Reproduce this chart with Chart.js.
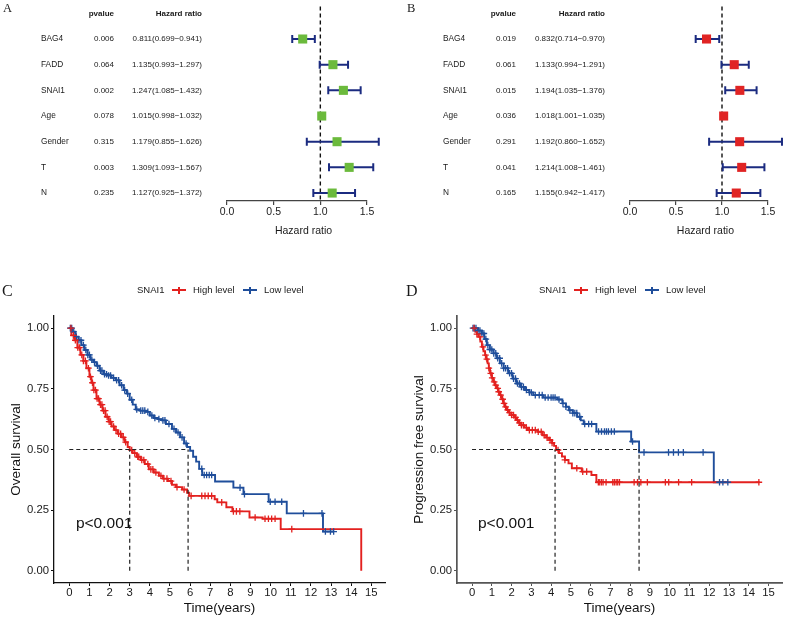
<!DOCTYPE html>
<html>
<head>
<meta charset="utf-8">
<script src="https://cdn.jsdelivr.net/npm/chart.js@4.4.1/dist/chart.umd.min.js"></script>
<style>
  body { margin: 0; background: #fff; width: 790px; height: 617px; position: relative; overflow: hidden;
         font-family: "Liberation Sans", Arial, sans-serif; }
  canvas { position: absolute; }
  .tag { position: absolute; font-family: "Liberation Serif", "Times New Roman", serif; line-height: 1; color: #1a1a1a; }
  .leg { position: absolute; font-size: 9.5px; line-height: 12px; height: 12px; color: #1a1a1a; white-space: nowrap; }
  .key { position: absolute; width: 14px; height: 12px; }
  .key .h { position: absolute; left: 0; right: 0; top: 5px; height: 2px; }
  .key .v { position: absolute; left: 6px; width: 1.5px; top: 2.5px; height: 7px; }
</style>
</head>
<body>
<canvas id="forestA" width="395" height="240" style="left:0;top:0"></canvas>
<canvas id="forestB" width="395" height="240" style="left:395px;top:0"></canvas>
<canvas id="kmC" width="395" height="377" style="left:0;top:240px"></canvas>
<canvas id="kmD" width="395" height="377" style="left:395px;top:240px"></canvas>

<div class="tag" style="left:3px;top:2px;font-size:12.5px">A</div>
<div class="tag" style="left:407px;top:2px;font-size:12.5px">B</div>
<div class="tag" style="left:2px;top:283px;font-size:16px">C</div>
<div class="tag" style="left:406px;top:283px;font-size:16px">D</div>

<script>
// ---- forest plot data (A: overall survival, B: progression free survival) ----
const forestRows = ['BAG4', 'FADD', 'SNAI1', 'Age', 'Gender', 'T', 'N'];
const osPvalue = ['0.006', '0.064', '0.002', '0.078', '0.315', '0.003', '0.235'];
const osHR     = [0.811, 1.135, 1.247, 1.015, 1.179, 1.309, 1.127];
const osLower  = [0.699, 0.993, 1.085, 0.998, 0.855, 1.093, 0.925];
const osUpper  = [0.941, 1.297, 1.432, 1.032, 1.626, 1.567, 1.372];
const pfsPvalue = ['0.019', '0.061', '0.015', '0.036', '0.291', '0.041', '0.165'];
const pfsHR     = [0.832, 1.133, 1.194, 1.018, 1.192, 1.214, 1.155];
const pfsLower  = [0.714, 0.994, 1.035, 1.001, 0.860, 1.008, 0.942];
const pfsUpper  = [0.970, 1.291, 1.376, 1.035, 1.652, 1.461, 1.417];
const hrTicks = [0, 0.5, 1, 1.5];

// ---- Kaplan-Meier data (C: overall survival, D: progression free survival) ----
const groupTitle = 'SNAI1';
const groupLabels = ['High level', 'Low level'];
const timeTicks = [0, 1, 2, 3, 4, 5, 6, 7, 8, 9, 10, 11, 12, 13, 14, 15];
const survTicks = [0, 0.25, 0.5, 0.75, 1];

const osHighTime = [0, 0.1, 0.25, 0.4, 0.55, 0.7, 0.85, 1.0, 1.1, 1.2, 1.35, 1.5, 1.65, 1.8, 1.95, 2.1,
  2.25, 2.4, 2.6, 2.75, 2.9, 3.0, 3.15, 3.35, 3.55, 3.75, 3.95, 4.2, 4.45, 4.65, 4.9, 5.1,
  5.3, 5.6, 5.85, 5.95, 7.22, 7.35, 7.8, 8.1, 8.95, 9.6, 10.5, 14.5];
const osHighSurv = [1, 0.97, 0.95, 0.92, 0.89, 0.865, 0.835, 0.8, 0.775, 0.745, 0.71, 0.685, 0.66, 0.635, 0.615, 0.595,
  0.58, 0.565, 0.55, 0.53, 0.51, 0.498, 0.485, 0.47, 0.457, 0.44, 0.418, 0.405, 0.392, 0.38, 0.37, 0.355,
  0.345, 0.335, 0.322, 0.309, 0.295, 0.282, 0.262, 0.245, 0.22, 0.215, 0.172, 0];
const osHighCensor = [0.08, 0.2, 0.3, 0.42, 0.5, 0.62, 0.7, 0.8, 0.95, 1.05, 1.15, 1.22, 1.3, 1.38, 1.45, 1.55,
  1.62, 1.7, 1.78, 1.88, 1.98, 2.05, 2.2, 2.32, 2.45, 2.55, 2.68, 2.8, 3.1, 3.25, 3.4, 3.45, 3.6, 3.7,
  3.9, 4.05, 4.15, 4.3, 4.55, 4.7, 4.85, 5.05, 5.35, 5.7, 6.05, 6.58, 6.74, 6.9, 7.07, 7.57, 8.15, 8.3,
  8.47, 9.23, 9.72, 9.89, 10.05, 10.22, 11.05];

const osLowTime = [0, 0.15, 0.3, 0.45, 0.6, 0.75, 0.9, 1.05, 1.2, 1.35, 1.5, 1.7, 1.9, 2.1, 2.3, 2.5,
  2.7, 2.85, 3.0, 3.15, 3.3, 3.5, 3.8, 4.0, 4.2, 4.4, 4.6, 4.8, 5.1, 5.3, 5.5, 5.7,
  5.85, 6.0, 6.15, 6.3, 6.45, 6.6, 7.24, 8.15, 8.65, 9.9, 10.8, 12.6, 13.13];
const osLowSurv = [1, 0.985, 0.965, 0.95, 0.93, 0.91, 0.89, 0.87, 0.86, 0.845, 0.825, 0.81, 0.805, 0.795, 0.785, 0.765,
  0.745, 0.73, 0.705, 0.685, 0.665, 0.66, 0.655, 0.64, 0.63, 0.625, 0.62, 0.605, 0.585, 0.57, 0.55, 0.525,
  0.51, 0.495, 0.47, 0.45, 0.42, 0.395, 0.368, 0.343, 0.316, 0.285, 0.237, 0.162, 0.162];
const osLowCensor = [0.05, 0.12, 0.22, 0.35, 0.48, 0.58, 0.7, 0.82, 0.92, 1.0, 1.12, 1.25, 1.4, 1.55, 1.62, 1.75,
  1.85, 1.95, 2.05, 2.2, 2.35, 2.45, 2.6, 2.75, 2.9, 3.1, 3.35, 3.55, 3.65, 3.75, 3.9, 4.1, 4.25, 4.45,
  4.65, 4.75, 4.95, 5.2, 5.4, 5.6, 5.8, 6.58, 6.7, 6.82, 6.95, 7.07, 8.48, 8.7, 9.98, 10.22, 10.55,
  11.63, 12.55, 12.72, 12.97, 13.13];
const osMedians = [3.0, 5.9];

const pfsHighTime = [0, 0.17, 0.25, 0.33, 0.42, 0.5, 0.58, 0.66, 0.72, 0.79, 0.85, 0.91, 1.0, 1.08, 1.16, 1.25,
  1.33, 1.41, 1.5, 1.58, 1.66, 1.74, 1.86, 1.99, 2.12, 2.24, 2.36, 2.49, 2.66, 2.83, 3.32, 3.57,
  3.75, 3.9, 4.05, 4.15, 4.25, 4.4, 4.55, 4.7, 4.88, 5.05, 5.55, 6.04, 6.29, 14.55];
const pfsHighSurv = [1, 0.985, 0.975, 0.964, 0.945, 0.923, 0.905, 0.889, 0.872, 0.855, 0.835, 0.814, 0.795, 0.779, 0.765, 0.752,
  0.738, 0.724, 0.707, 0.69, 0.676, 0.663, 0.652, 0.642, 0.632, 0.621, 0.61, 0.6, 0.59, 0.58, 0.573, 0.559,
  0.549, 0.539, 0.527, 0.515, 0.498, 0.485, 0.471, 0.457, 0.443, 0.423, 0.409, 0.395, 0.365, 0.365];
const pfsHighCensor = [0.1, 0.25, 0.4, 0.55, 0.68, 0.75, 0.85, 0.95, 1.02, 1.12, 1.2, 1.3, 1.35, 1.45, 1.55, 1.62,
  1.7, 1.8, 1.9, 2.0, 2.1, 2.2, 2.3, 2.4, 2.5, 2.6, 2.75, 2.9, 3.05, 3.2, 3.35, 3.5, 3.65, 3.8, 3.95,
  4.05, 4.35, 4.7, 5.3, 5.6, 5.8, 6.39, 6.46, 6.55, 6.63, 6.78, 7.12, 7.2, 7.29, 7.37, 7.46, 8.2, 8.37,
  8.54, 8.87, 9.78, 9.95, 10.45, 11.11, 14.51];

const pfsLowTime = [0, 0.3, 0.5, 0.62, 0.75, 0.9, 1.08, 1.25, 1.41, 1.6, 1.83, 2.05, 2.24, 2.45, 2.68, 2.9,
  3.1, 3.6, 4.32, 4.57, 4.75, 4.9, 5.1, 5.32, 5.5, 5.65, 6.29, 8.05, 8.45, 12.23, 12.94];
const pfsLowSurv = [1, 0.99, 0.978, 0.955, 0.93, 0.912, 0.896, 0.876, 0.855, 0.835, 0.814, 0.792, 0.772, 0.758, 0.745, 0.735,
  0.724, 0.714, 0.706, 0.69, 0.676, 0.662, 0.65, 0.635, 0.62, 0.605, 0.574, 0.533, 0.488, 0.365, 0.365];
const pfsLowCensor = [0.05, 0.12, 0.2, 0.3, 0.4, 0.5, 0.6, 0.7, 0.8, 0.9, 1.0, 1.1, 1.2, 1.3, 1.4, 1.5, 1.6,
  1.7, 1.8, 1.9, 2.0, 2.1, 2.2, 2.3, 2.4, 2.5, 2.6, 2.75, 2.9, 3.0, 3.2, 3.4, 3.55, 3.7, 3.85, 4.0,
  4.1, 4.2, 4.4, 4.6, 4.75, 4.95, 5.1, 5.2, 5.3, 5.45, 5.7, 5.9, 6.05, 6.4, 6.55, 6.7, 6.8, 6.9, 7.05,
  7.2, 8.12, 8.7, 9.94, 10.19, 10.44, 10.69, 11.69, 12.52, 12.69, 12.94];
const pfsMedians = [4.2, 8.45];

// ---- styles ----
const FONT = '"Liberation Sans", Arial, sans-serif';
const RED = '#E3211F';
const BLUE = '#1F4E9B';
const NAVY = '#1B2B80';
const TEXT = '#1a1a1a';

Chart.defaults.font.family = FONT;
Chart.defaults.color = TEXT;

// --- forest plot (A, B) ---
function forestChart(id, cfg) {
  const decor = {
    id: 'forestDecor',
    beforeDatasetsDraw(chart) {
      const { ctx, chartArea, scales: { x, y } } = chart;
      ctx.save();
      // dashed reference line at HR = 1
      const x1 = x.getPixelForValue(1);
      ctx.strokeStyle = '#111';
      ctx.lineWidth = 1.4;
      ctx.setLineDash([4, 3]);
      ctx.beginPath();
      ctx.moveTo(x1, chartArea.top);
      ctx.lineTo(x1, chartArea.bottom - 1);
      ctx.stroke();

      // confidence intervals with caps
      ctx.setLineDash([]);
      ctx.strokeStyle = NAVY;
      ctx.lineWidth = 2;
      forestRows.forEach((r, i) => {
        const yy = y.getPixelForValue(i);
        const a = x.getPixelForValue(cfg.low[i]);
        const b = x.getPixelForValue(cfg.high[i]);
        ctx.beginPath();
        ctx.moveTo(a, yy); ctx.lineTo(b, yy);
        ctx.moveTo(a, yy - 4); ctx.lineTo(a, yy + 4);
        ctx.moveTo(b, yy - 4); ctx.lineTo(b, yy + 4);
        ctx.stroke();
      });

      // table columns
      ctx.fillStyle = TEXT;
      ctx.textBaseline = 'middle';
      const yh = y.getPixelForValue(-1);
      ctx.font = 'bold 8px ' + FONT;
      ctx.textAlign = 'right';
      ctx.fillText('pvalue', cfg.pCol, yh);
      ctx.fillText('Hazard ratio', cfg.hrCol, yh);
      forestRows.forEach((r, i) => {
        const yy = y.getPixelForValue(i);
        ctx.font = '8.3px ' + FONT;
        ctx.textAlign = 'left';
        ctx.fillText(r, cfg.nameCol, yy);
        ctx.font = '8px ' + FONT;
        ctx.textAlign = 'right';
        ctx.fillText(cfg.pval[i], cfg.pCol, yy);
        const txt = cfg.hr[i].toFixed(3) + '(' + cfg.low[i].toFixed(3) + '\u2212' + cfg.high[i].toFixed(3) + ')';
        ctx.fillText(txt, cfg.hrCol, yy);
      });

      // axis title, sits a little right of the axis centre as in the source figure
      ctx.font = '10.5px ' + FONT;
      ctx.textAlign = 'center';
      ctx.fillText('Hazard ratio', x.getPixelForValue(0.82), chartArea.bottom + 30);
      ctx.restore();
    }
  };

  return new Chart(document.getElementById(id), {
    type: 'scatter',
    data: {
      datasets: [{
        data: cfg.hr.map((v, i) => ({ x: v, y: i })),
        pointStyle: 'rect',
        pointRadius: 6.4,
        pointHoverRadius: 6.4,
        backgroundColor: cfg.color,
        borderWidth: 0,
        clip: false
      }]
    },
    options: {
      responsive: false,
      animation: false,
      devicePixelRatio: 1,
      events: [],
      layout: { padding: { left: cfg.left, right: cfg.right, top: 5, bottom: 0 } },
      plugins: { legend: { display: false }, tooltip: { enabled: false } },
      scales: {
        x: {
          type: 'linear', min: 0, max: 1.5,
          afterFit: s => { s.height = 39; },
          afterBuildTicks: s => { s.ticks = hrTicks.map(v => ({ value: v })); },
          border: { display: true, color: '#444', width: 1.2 },
          grid: { display: true, drawOnChartArea: false, tickLength: 4, color: '#444', lineWidth: 1.2 },
          ticks: { callback: v => v.toFixed(1), font: { size: 10.5 }, color: TEXT, padding: 1, maxRotation: 0 },
          title: { display: false }
        },
        y: { type: 'linear', display: false, reverse: true, min: -1.27, max: 6.31 }
      }
    },
    plugins: [decor]
  });
}

forestChart('forestA', { hr: osHR, low: osLower, high: osUpper, pval: osPvalue, color: '#6BBA3C',
  left: 227, right: 28, nameCol: 41, pCol: 114, hrCol: 202 });
forestChart('forestB', { hr: pfsHR, low: pfsLower, high: pfsUpper, pval: pfsPvalue, color: '#E02424',
  left: 235, right: 22, nameCol: 48, pCol: 121, hrCol: 210 });

// --- Kaplan-Meier curves (C, D) ---
function survAt(times, surv, t) {
  let s = surv[0];
  for (let i = 0; i < times.length; i++) if (times[i] <= t) s = surv[i];
  return s;
}
const pts = (xs, ys) => xs.map((x, i) => ({ x: x, y: ys[i] }));

function kmChart(id, cfg) {
  const pText = {
    id: 'pText',
    afterDatasetsDraw(chart) {
      const { ctx, scales: { x, y } } = chart;
      ctx.save();
      ctx.font = '15.5px ' + FONT;
      ctx.fillStyle = '#111';
      ctx.textBaseline = 'middle';
      ctx.textAlign = 'left';
      ctx.fillText('p<0.001', x.getPixelForValue(cfg.pAt[0]), y.getPixelForValue(cfg.pAt[1]));
      ctx.restore();
    }
  };

  const medianLines = [
    { data: [{ x: 0, y: 0.5 }, { x: Math.max(...cfg.medians), y: 0.5 }] },
    ...cfg.medians.map(m => ({ data: [{ x: m, y: 0 }, { x: m, y: 0.5 }] }))
  ].map(d => Object.assign(d, {
    showLine: true, pointRadius: 0, borderColor: '#222', borderWidth: 1.2, borderDash: [4, 3], order: 0
  }));

  const curve = (t, s, color) => ({
    data: pts(t, s), showLine: true, stepped: true, pointRadius: 0,
    borderColor: color, borderWidth: 1.9, order: 2
  });
  const censor = (c, t, s, color) => ({
    data: c.map(v => ({ x: v, y: survAt(t, s, v) })), showLine: false, pointStyle: 'cross',
    pointRadius: 3.3, pointHoverRadius: 3.3, borderColor: color, borderWidth: 1.3, order: 1
  });

  return new Chart(document.getElementById(id), {
    type: 'scatter',
    data: {
      datasets: [
        ...medianLines,
        curve(cfg.hiT, cfg.hiS, RED),
        curve(cfg.loT, cfg.loS, BLUE),
        censor(cfg.hiC, cfg.hiT, cfg.hiS, RED),
        censor(cfg.loC, cfg.loT, cfg.loS, BLUE)
      ]
    },
    options: {
      responsive: false,
      animation: false,
      devicePixelRatio: 1,
      events: [],
      layout: { padding: { left: 0, right: cfg.padRight, top: 76, bottom: 0 } },
      plugins: { legend: { display: false }, tooltip: { enabled: false } },
      scales: {
        x: {
          type: 'linear', min: -0.76, max: 15.68,
          afterFit: s => { s.height = 34; },
          afterBuildTicks: s => { s.ticks = timeTicks.map(v => ({ value: v })); },
          border: { display: true, color: cfg.axisColor, width: cfg.axisWidth },
          grid: { display: true, drawOnChartArea: false, tickLength: 3, color: cfg.axisColor },
          ticks: { font: { size: 11.3 }, color: TEXT, padding: 0, maxRotation: 0, autoSkip: false },
          title: { display: true, text: 'Time(years)', font: { size: 13.5 }, color: '#111', padding: { top: 0, bottom: 0.5 } }
        },
        y: {
          type: 'linear', min: -0.05, max: 1.05,
          afterFit: s => { s.width = cfg.yWidth; },
          afterBuildTicks: s => { s.ticks = survTicks.map(v => ({ value: v })); },
          border: { display: true, color: cfg.axisColor, width: cfg.axisWidth },
          grid: { display: true, drawOnChartArea: false, tickLength: 3, color: cfg.axisColor },
          ticks: { callback: v => v.toFixed(2), font: { size: 11.3 }, color: TEXT, padding: 2 },
          title: { display: true, text: cfg.yTitle, font: { size: 13.5 }, color: '#111', padding: { top: cfg.yTitlePad, bottom: 0 } }
        }
      }
    },
    plugins: [pText]
  });
}

kmChart('kmC', {
  hiT: osHighTime, hiS: osHighSurv, hiC: osHighCensor,
  loT: osLowTime, loS: osLowSurv, loC: osLowCensor,
  medians: osMedians, yTitle: 'Overall survival', yWidth: 54, yTitlePad: 8, padRight: 10,
  axisColor: '#111', axisWidth: 1.3, pAt: [0.33, 0.196]
});
kmChart('kmD', {
  hiT: pfsHighTime, hiS: pfsHighSurv, hiC: pfsHighCensor,
  loT: pfsLowTime, loS: pfsLowSurv, loC: pfsLowCensor,
  medians: pfsMedians, yTitle: 'Progression free survival', yWidth: 62, yTitlePad: 16, padRight: 8,
  axisColor: '#555', axisWidth: 1.7, pAt: [0.3, 0.196]
});

// --- legends above the KM panels ---
function legend(left, top) {
  const add = (cls, x, html) => {
    const d = document.createElement('div');
    d.className = cls;
    d.style.left = (left + x) + 'px';
    d.style.top = top + 'px';
    d.innerHTML = html;
    document.body.appendChild(d);
    return d;
  };
  add('leg', 0, groupTitle);
  [RED, BLUE].forEach((c, i) => {
    const k = add('key', 35 + i * 71, '<div class="h"></div><div class="v"></div>');
    k.querySelectorAll('div').forEach(el => { el.style.background = c; });
    add('leg', 56 + i * 71, groupLabels[i]);
  });
}
legend(137, 284);
legend(539, 284);
</script>
</body>
</html>
